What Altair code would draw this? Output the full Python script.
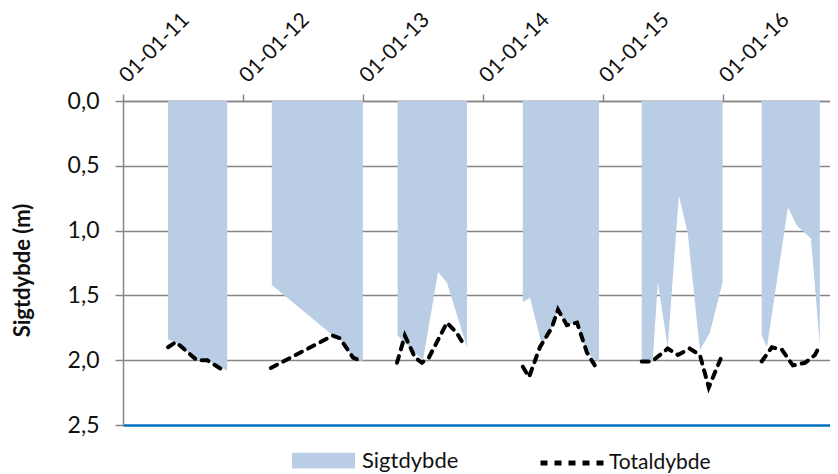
import altair as alt
import pandas as pd

# ---- data ----
series_names = ["Sigtdybde", "Totaldybde"]

sigt_dates = [
    "2011-05-18", "2011-06-11", "2011-08-14", "2011-09-14", "2011-11-14",
    "2012-03-29", "2012-10-01", "2012-10-22", "2012-12-01", "2012-12-31",
    "2013-04-16", "2013-07-02", "2013-08-17", "2013-09-13", "2013-11-13",
    "2014-05-02", "2014-05-24", "2014-06-29", "2014-07-29", "2014-08-17",
    "2014-09-13", "2014-10-14", "2014-11-13", "2014-12-20",
    "2015-04-29", "2015-06-01", "2015-06-17", "2015-07-17", "2015-08-20",
    "2015-09-16", "2015-10-23", "2015-11-22", "2015-12-31",
    "2016-04-28", "2016-05-14", "2016-07-17", "2016-08-13", "2016-09-25",
    "2016-10-22",
]
sigt_values = [
    1.84, 1.86, 2.00, 2.00, 2.08,
    1.42, 1.81, 1.83, 1.98, 2.01,
    1.81, 2.00, 1.32, 1.40, 1.90,
    1.55, 1.52, 1.88, 1.75, 1.61,
    1.73, 1.71, 1.94, 2.02,
    2.01, 2.01, 1.40, 1.90, 0.73,
    1.02, 1.92, 1.79, 1.40,
    1.81, 1.90, 0.82, 0.96, 1.06,
    1.88,
]

total_dates = [
    "2011-05-18", "2011-06-11", "2011-08-14", "2011-09-14", "2011-11-10",
    "2012-03-26", "2012-10-01", "2012-10-22", "2012-12-01", "2012-12-31",
    "2013-04-14", "2013-05-08", "2013-06-08", "2013-06-29", "2013-07-20",
    "2013-09-13", "2013-10-13", "2013-11-01",
    "2014-05-02", "2014-05-21", "2014-06-23", "2014-07-29", "2014-08-17",
    "2014-09-13", "2014-10-14", "2014-11-13", "2014-12-07",
    "2015-04-29", "2015-05-30", "2015-07-17", "2015-08-17", "2015-09-22",
    "2015-10-23", "2015-11-19", "2015-12-25",
    "2016-04-28", "2016-05-29", "2016-06-29", "2016-08-01", "2016-09-07",
    "2016-10-07", "2016-10-19",
]
total_values = [
    1.90, 1.86, 2.00, 2.00, 2.09,
    2.06, 1.81, 1.83, 1.98, 2.01,
    2.02, 1.81, 1.98, 2.02, 1.98,
    1.71, 1.79, 1.87,
    2.05, 2.13, 1.90, 1.75, 1.61,
    1.73, 1.71, 1.94, 2.04,
    2.01, 2.01, 1.91, 1.96, 1.91,
    1.96, 2.21, 1.99,
    2.01, 1.90, 1.92, 2.04, 2.02,
    1.96, 1.90,
]

tick_years = [2011, 2012, 2013, 2014, 2015, 2016]
y_ticks = [0.0, 0.5, 1.0, 1.5, 2.0, 2.5]

# ---- tables ----
sigt_df = pd.DataFrame({"date": sigt_dates, "value": sigt_values})
sigt_df["season"] = sigt_df["date"].str[:4]
sigt_df["series"] = series_names[0]

total_df = pd.DataFrame({"date": total_dates, "value": total_values})
total_df["season"] = total_df["date"].str[:4]
total_df["series"] = series_names[1]

FONT = "Lato"
GRID = "#868686"

x_enc = alt.X(
    "date:T",
    scale=alt.Scale(
        type="utc",
        domain=[alt.DateTime(year=2011, month=1, date=1, utc=True),
                alt.DateTime(year=2016, month=11, date=22, utc=True)],
    ),
    axis=alt.Axis(
        orient="top",
        title=None,
        values=[alt.DateTime(year=y, month=1, date=1, utc=True) for y in tick_years],
        format="%d-%m-%y",
        grid=False,
        tickSize=7,
        labelAngle=-45,
        labelAlign="left",
        labelBaseline="middle",
        labelOffset=0,
        labelPadding=15,
        labelOverlap=False,
        labelFlush=False,
        labelBound=False,
        labelFontSize=21,
    ),
)

y_enc = alt.Y(
    "value:Q",
    stack=None,
    scale=alt.Scale(domain=[0, 2.5], reverse=True, nice=False, zero=True),
    axis=alt.Axis(
        values=y_ticks,
        title="Sigtdybde (m)",
        labelExpr="replace(format(datum.value, '.1f'), '.', ',')",
        grid=True,
        gridColor={"condition": {"test": "datum.value === 2.5", "value": "#0070C0"}, "value": GRID},
        gridWidth={"condition": {"test": "datum.value === 2.5", "value": 2.5}, "value": 1.5},
        tickSize=8,
        labelPadding=16,
        labelFontSize=23,
        titleFontSize=22,
        titleFontWeight="bold",
        titleAngle=-90,
        titleX=-101,
        titleY=169,
        titleAlign="center",
        titleBaseline="middle",
    ),
)

area = alt.Chart(sigt_df).mark_area(opacity=1, interpolate="linear").encode(
    x=x_enc,
    y=y_enc,
    detail="season:N",
    fill=alt.Fill(
        "series:N",
        scale=alt.Scale(domain=[series_names[0]], range=["#B9CDE5"]),
        legend=alt.Legend(
            title=None,
            orient="none",
            legendX=169,
            legendY=328,
            symbolType="M-1,-0.25H1V0.25H-1Z",
            symbolSize=3969,
            symbolStrokeWidth=0,
            symbolOpacity=1,
            labelFontSize=22,
            labelOffset=7,
            labelLimit=300,
        ),
    ),
)

line = alt.Chart(total_df).mark_line(
    color="black", strokeWidth=4, strokeCap="round"
).encode(
    x=x_enc,
    y=y_enc,
    detail="season:N",
    strokeDash=alt.StrokeDash(
        "series:N",
        scale=alt.Scale(domain=[series_names[1]], range=[[7, 7]]),
        legend=alt.Legend(
            title=None,
            orient="none",
            legendX=415,
            legendY=328,
            symbolType="stroke",
            symbolSize=3969,
            symbolStrokeWidth=5,
            symbolStrokeColor="black",
            symbolDash=[13, 4],
            labelFontSize=21,
            labelOffset=3,
            labelLimit=300,
        ),
    ),
)

chart = alt.layer(area, line).properties(
    width=707,
    height=324,
    padding={"left": 115, "top": 93, "right": 0, "bottom": 49},
    autosize=alt.AutoSizeParams(type="none"),
).configure(
    font=FONT,
).configure_view(
    stroke=None,
).configure_axis(
    domainColor=GRID,
    domainWidth=1.5,
    tickColor=GRID,
    tickWidth=1.5,
    labelColor="#111111",
    titleColor="#111111",
    labelFont=FONT,
    titleFont=FONT,
).configure_legend(
    labelColor="#111111",
    labelFont=FONT,
)

chart.save("out.html", embed_options={"renderer": "svg", "actions": False})
